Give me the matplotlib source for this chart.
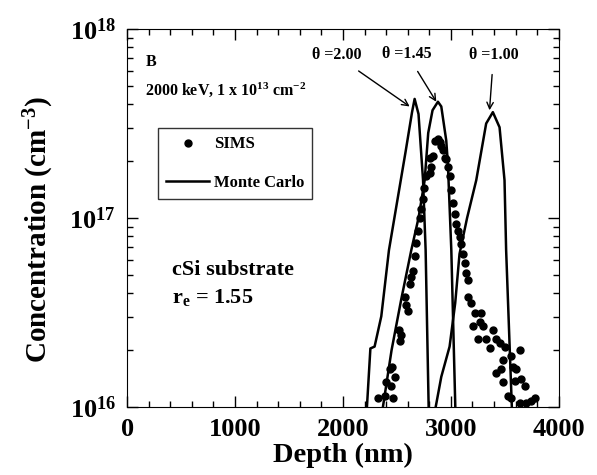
import numpy as np
import matplotlib
matplotlib.use("Agg")
import matplotlib.pyplot as plt
from matplotlib.ticker import MultipleLocator, LogLocator, FuncFormatter, NullFormatter

plt.rcParams['font.family'] = ['Liberation Serif', 'DejaVu Serif']
plt.rcParams['font.weight'] = 'bold'
plt.rcParams['mathtext.fontset'] = 'custom'
plt.rcParams['mathtext.rm'] = 'Liberation Serif:bold'
plt.rcParams['mathtext.bf'] = 'Liberation Serif:bold'
plt.rcParams['mathtext.it'] = 'Liberation Serif:bold'

# SIMS data (depth in nm, log10 of concentration)
sims_x = [2325, 2386, 2463, 2401, 2448, 2457, 2432, 2479, 2519, 2541, 2525,
          2571, 2587, 2602, 2618, 2633, 2648, 2665, 2680, 2695, 2710, 2725,
          2740, 2755, 2772, 2803, 2803, 2818, 2833, 2849, 2880, 2895, 2911,
          2926, 2942, 2957, 2972, 2988, 3005, 3020, 3035, 3050, 3065, 3080,
          3095, 3114, 3127, 3142, 3158, 3158, 3189, 3219, 3281, 3204, 3266,
          3296, 3327, 3250, 3389, 3420, 3358, 3451, 3497, 3481, 3559, 3636,
          3420, 3466, 3574, 3605, 3481, 3590, 3652, 3683, 3528, 3559, 3636,
          3698, 3744, 3775]
sims_log = [16.05, 16.06, 16.05, 16.13, 16.11, 16.21, 16.20, 16.16, 16.41, 16.38, 16.35,
            16.58, 16.54, 16.51, 16.65, 16.69, 16.72, 16.80, 16.87, 16.93, 17.00, 17.05,
            17.10, 17.16, 17.22, 17.24, 17.32, 17.27, 17.33, 17.41, 17.42, 17.40, 17.38,
            17.36, 17.32, 17.31, 17.27, 17.22, 17.15, 17.08, 17.02, 16.97, 16.93, 16.90,
            16.86, 16.81, 16.76, 16.71, 16.67, 16.58, 16.55, 16.50, 16.50, 16.43, 16.45,
            16.43, 16.36, 16.36, 16.41, 16.36, 16.31, 16.34, 16.32, 16.25, 16.27, 16.30,
            16.18, 16.20, 16.21, 16.20, 16.13, 16.14, 16.15, 16.11, 16.06, 16.05, 16.02,
            16.02, 16.03, 16.05]

# Monte Carlo profiles
mc200_x = [2222, 2254, 2293, 2355, 2426, 2500, 2580, 2640, 2664, 2700, 2742, 2766, 2794]
mc200_log = [16.0, 16.31, 16.32, 16.48, 16.83, 17.08, 17.35, 17.56, 17.63, 17.55, 17.2, 16.83, 16.0]

mc145_x = [2370, 2450, 2540, 2633, 2700, 2757, 2790, 2830, 2880, 2911, 2957, 2972, 3004, 3041]
mc145_log = [16.0, 16.3, 16.57, 16.83, 17.0, 17.2, 17.45, 17.57, 17.615, 17.59, 17.41, 17.29, 16.83, 16.0]

mc100_x = [2859, 2911, 2988, 3040, 3080, 3150, 3235, 3327, 3389, 3451, 3497, 3512, 3565]
mc100_log = [16.0, 16.16, 16.32, 16.55, 16.81, 17.0, 17.2, 17.5, 17.56, 17.48, 17.2, 16.83, 16.0]

fig = plt.figure(figsize=(5.97, 4.75), dpi=100)
ax = fig.add_axes([0.213, 0.143, 0.723, 0.796])

ax.plot(sims_x, 10 ** np.array(sims_log), 'o', color='black', markersize=5,
        linestyle='none', label='SIMS')
ax.plot(mc200_x, 10 ** np.array(mc200_log), color='black', lw=1.8, label='Monte Carlo')
ax.plot(mc145_x, 10 ** np.array(mc145_log), color='black', lw=1.8)
ax.plot(mc100_x, 10 ** np.array(mc100_log), color='black', lw=1.8)

ax.set_yscale('log')
ax.set_xlim(0, 4000)
ax.set_ylim(1e16, 1e18)

ax.xaxis.set_major_locator(MultipleLocator(1000))
ax.xaxis.set_minor_locator(MultipleLocator(200))
ax.yaxis.set_major_locator(LogLocator(base=10))
ax.yaxis.set_minor_locator(LogLocator(base=10, subs=np.arange(2, 10)))
ax.yaxis.set_minor_formatter(NullFormatter())
ax.yaxis.set_major_formatter(FuncFormatter(lambda v, p: r'$\mathbf{10^{%d}}$' % round(np.log10(v))))

ax.tick_params(which='both', direction='in', top=True, right=True, width=1)
ax.tick_params(which='major', length=8, labelsize=19, pad=8)
ax.tick_params(which='minor', length=4)
for lab in ax.get_xticklabels():
    lab.set_fontweight('bold')

ax.set_xlabel('Depth (nm)', fontsize=20.5, fontweight='bold', labelpad=1)
ax.set_ylabel(r'Concentration (cm$^{\mathbf{-3}}$)', fontsize=21, fontweight='bold')
ax.yaxis.set_label_coords(-0.165, 0.47)

ax.text(0.042, 0.913, 'B', transform=ax.transAxes, fontsize=11.5, fontweight='bold', va='center')
ax.text(0.042, 0.839, r'2000 keV, 1 x 10$^{\mathbf{13}}$ cm$^{\mathbf{-2}}$',
        transform=ax.transAxes, fontsize=11.5, fontweight='bold', va='center')
ax.text(0.105, 0.35, 'cSi substrate', transform=ax.transAxes, fontsize=16, fontweight='bold')
ax.text(0.105, 0.275, r'r$_{\mathbf{e}}$ = 1.55', transform=ax.transAxes, fontsize=16, fontweight='bold')

arrow = dict(arrowstyle='->', color='black', lw=1, shrinkA=6, shrinkB=0)
ax.annotate('\u03b8 =2.00', xy=(2618, 10 ** 17.59), xytext=(1938, 10 ** 17.86),
            ha='center', va='center', fontsize=11.5, fontweight='bold', arrowprops=arrow)
ax.annotate('\u03b8 =1.45', xy=(2865, 10 ** 17.615), xytext=(2590, 10 ** 17.87),
            ha='center', va='center', fontsize=11.5, fontweight='bold', arrowprops=arrow)
ax.annotate('\u03b8 =1.00', xy=(3358, 10 ** 17.57), xytext=(3395, 10 ** 17.86),
            ha='center', va='center', fontsize=11.5, fontweight='bold', arrowprops=arrow)

leg = ax.legend(loc='upper left', bbox_to_anchor=(0.071, 0.738), borderaxespad=0,
                frameon=True, fancybox=False, edgecolor='black',
                labelspacing=1.35, handlelength=2.6, handletextpad=0.25,
                borderpad=0.5, numpoints=1, prop={'weight': 'bold', 'size': 12})
leg.get_frame().set_linewidth(1)

fig.savefig('out.png', dpi=100)
